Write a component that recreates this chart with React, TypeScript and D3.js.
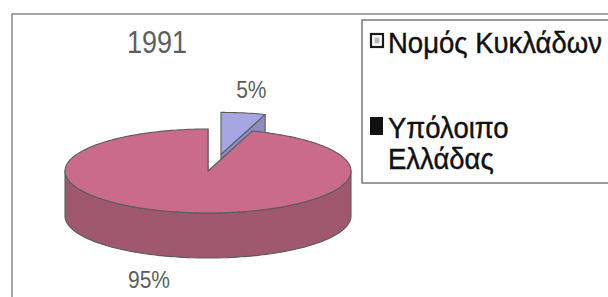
import React from 'react';
import * as d3 from 'd3';

// data
const categories = ['Νομός Κυκλάδων', 'Υπόλοιπο Ελλάδας'];
const values = [5, 95];
const valueLabels = ['5%', '95%'];
const legendLines = [['Νομός Κυκλάδων'], ['Υπόλοιπο', 'Ελλάδας']];
const title = '1991';

const W = 608;
const H = 297;

// pie geometry
const cx = 208;
const cy = 171;
const rx = 143;
const ry = 42;
const depth = 45;
const explode = 0.4;

const topColors = ['#A6A6E2', '#CB6B8B'];
const sideColors = ['#8C8CBE', '#A0586F'];
const outline = '#5c5c5c';
const labelColor = '#5e5e5e';

type Pt = [number, number];

function proj(a: number, r = 1, dy = 0): Pt {
  return [cx + rx * r * Math.sin(a), cy - ry * r * Math.cos(a) + dy];
}

function arcPts(a0: number, a1: number, dy = 0): Pt[] {
  const n = Math.max(2, Math.ceil(Math.abs(a1 - a0) / 0.02));
  return d3.range(n + 1).map((i) => proj(a0 + ((a1 - a0) * i) / n, 1, dy));
}

const line = d3.line<Pt>();

// text drawn a bit taller than wide, like the scanned original
function Tall({ x, y, size, fill, anchor = 'start', sy = 1.12, bold = 0, children }: any) {
  return (
    <text
      transform={`translate(${x},${y}) scale(1,${sy})`}
      textAnchor={anchor}
      fontSize={size}
      fill={fill}
      stroke={bold ? fill : 'none'}
      strokeWidth={bold}
    >
      {children}
    </text>
  );
}

export default function App() {
  const arcs = d3.pie<number>().sort(null).startAngle(0)(values);

  const slices = arcs.map((a, i) => {
    const mid = (a.startAngle + a.endAngle) / 2;
    const isExploded = i === 0;
    const ox = isExploded ? explode * rx * Math.sin(mid) * 1.45 : 0;
    const oy = isExploded ? -explode * ry * Math.cos(mid) : 0;
    const c: Pt = [cx, cy];

    // top face
    const top = line([c, ...arcPts(a.startAngle, a.endAngle), c])! + 'Z';

    // outer wall: only the front half (PI/2 .. 3PI/2) is visible
    const s = Math.max(a.startAngle, Math.PI / 2);
    const e = Math.min(a.endAngle, (3 * Math.PI) / 2);
    const wall =
      s < e
        ? line([...arcPts(s, e), ...arcPts(e, s, depth)])! + 'Z'
        : null;

    // radial face at end angle (visible when it faces the viewer)
    const endP = proj(a.endAngle);
    const endFace =
      Math.cos(a.endAngle + Math.PI / 2) < 0
        ? line([c, endP, [endP[0], endP[1] + depth], [cx, cy + depth]])! + 'Z'
        : null;

    return { i, top, wall, endFace, ox, oy, mid };
  });

  // paint back slice (exploded, behind) first
  const order = [0, 1];

  const labelSmall = slices[0];
  const smallTop = proj(labelSmall.mid);

  return (
    <svg
      width={W}
      height={H}
      style={{ position: 'absolute', left: 0, top: 0, background: '#fff' }}
      fontFamily="'Liberation Sans', Arial, sans-serif"
    >
      {/* chart area border */}
      <rect x={12} y={14} width={W} height={H} fill="none" stroke="#8a8a8a" strokeWidth={1.5} />

      <Tall x={157} y={53} size={27} fill={labelColor} anchor="middle" sy={1.15}>
        {title}
      </Tall>

      {order.map((k) => {
        const sl = slices[k];
        return (
          <g key={k} transform={`translate(${sl.ox},${sl.oy})`} stroke={outline} strokeWidth={1.1} strokeLinejoin="round">
            {sl.endFace && <path d={sl.endFace} fill={sideColors[k]} />}
            {sl.wall && <path d={sl.wall} fill={sideColors[k]} />}
            <path d={sl.top} fill={topColors[k]} />
          </g>
        );
      })}

      <Tall
        x={smallTop[0] + labelSmall.ox + 8}
        y={smallTop[1] + labelSmall.oy - 15}
        anchor="middle"
        size={21}
        fill={labelColor}
      >
        {valueLabels[0]}
      </Tall>
      <Tall x={149} y={288} anchor="middle" size={21} fill={labelColor}>
        {valueLabels[1]}
      </Tall>

      {/* legend */}
      <rect x={362} y={20} width={W} height={163} fill="#fff" stroke="#7a7a7a" strokeWidth={1.5} />
      {categories.map((cat, i) => {
        const y0 = i === 0 ? 53 : 138;
        return (
          <g key={cat}>
            {i === 0 ? (
              <g>
                <rect x={371} y={34} width={12} height={13} fill="#fff" stroke="#1a1a1a" strokeWidth={2.2} />
                <rect x={374.5} y={37.5} width={5} height={6} fill="#b8b8b8" />
              </g>
            ) : (
              <rect x={370} y={117} width={13} height={18} fill="#111" />
            )}
            {legendLines[i].map((t, j) => (
              <Tall key={j} x={388} y={y0 + j * 31} size={27.5} fill="#111" sy={1.08} bold={0.4}>
                {t}
              </Tall>
            ))}
          </g>
        );
      })}
    </svg>
  );
}
